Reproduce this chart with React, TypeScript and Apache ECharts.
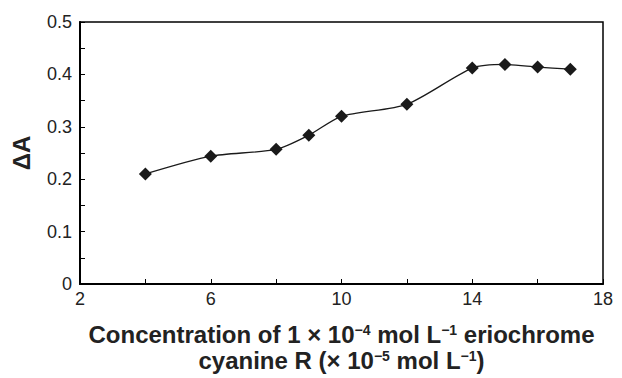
import React, { useEffect, useRef } from "react";
import * as echarts from "echarts";

const xValues = [4, 6, 8, 9, 10, 12, 14, 15, 16, 17];
const yValues = [0.21, 0.244, 0.257, 0.284, 0.32, 0.343, 0.412, 0.419, 0.414, 0.41];
const xTickLabels = ["2", "6", "10", "14", "18"];
const yTitle = "ΔA";
const xTitle =
  "Concentration of 1 × 10{s|−4} mol L{s|−1} eriochrome\ncyanine R (× 10{s|−5} mol L{s|−1})";

export default function App() {
  const ref = useRef<HTMLDivElement>(null);
  useEffect(() => {
    const chart = echarts.init(ref.current!, null, { renderer: "svg" });
    const font = "Liberation Sans, Arial, sans-serif";
    chart.setOption({
      animation: false,
      backgroundColor: "#fff",
      grid: { left: 80, right: 19, top: 22, bottom: 92, show: true, borderColor: "#000", borderWidth: 1.5 },
      xAxis: {
        type: "value",
        min: 2,
        max: 18,
        interval: 2,
        axisLine: { show: true, lineStyle: { color: "#000", width: 2 } },
        axisTick: { show: true, inside: true, length: 5, lineStyle: { color: "#000" } },
        splitLine: { show: false },
        axisLabel: {
          color: "#222",
          fontSize: 18,
          fontFamily: font,
          margin: 6,
          formatter: (v: number) => (xTickLabels.includes(String(v)) ? String(v) : ""),
        },
        name: xTitle,
        nameLocation: "middle",
        nameGap: 37,
        nameTextStyle: {
          fontSize: 24,
          fontWeight: "bold",
          fontFamily: font,
          color: "#222",
          lineHeight: 26,
          verticalAlign: "top",
          rich: {
            s: { fontSize: 14, fontWeight: "bold", fontFamily: font, color: "#222", padding: [0, 0, 9, 0], lineHeight: 26 },
          },
        },
      },
      yAxis: {
        type: "value",
        min: 0,
        max: 0.5,
        interval: 0.05,
        axisLine: { show: true, lineStyle: { color: "#000", width: 2 } },
        axisTick: { show: true, inside: true, length: 5, lineStyle: { color: "#000" } },
        splitLine: { show: false },
        axisLabel: {
          color: "#222",
          fontSize: 18,
          fontFamily: font,
          margin: 8,
          formatter: (v: number) => {
            const r = Math.round(v * 100);
            if (r % 10 !== 0) return "";
            return r === 0 ? "0" : (r / 100).toFixed(1);
          },
        },
        name: yTitle,
        nameLocation: "middle",
        nameGap: 47,
        nameTextStyle: { fontSize: 24, fontWeight: "bold", fontFamily: font, color: "#222" },
      },
      series: [
        {
          type: "line",
          data: xValues.map((x, i) => [x, yValues[i]]),
          smooth: 0.25,
          symbol: "diamond",
          symbolSize: 13,
          itemStyle: { color: "#1a1a1a" },
          lineStyle: { color: "#1a1a1a", width: 1.3 },
        },
      ],
    });
    return () => chart.dispose();
  }, []);
  return <div ref={ref} style={{ width: 622, height: 378, position: "absolute", left: 0, top: 0 }} />;
}
